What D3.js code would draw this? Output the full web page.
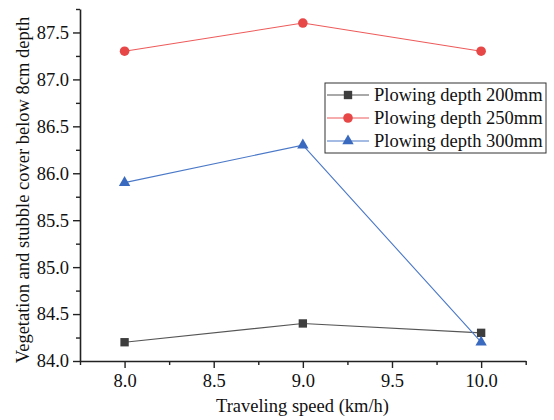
<!DOCTYPE html>
<html>
<head>
<meta charset="utf-8">
<script src="https://cdn.jsdelivr.net/npm/d3@7"></script>
<style>
  html, body { margin: 0; padding: 0; background: #fff; }
  svg { display: block; }
  svg text { font-family: "Liberation Serif", serif; }
</style>
</head>
<body>
<svg id="chart" width="554" height="420"></svg>
<script>
// Traveling speed (km/h)
const speeds = [8.0, 9.0, 10.0];
// Vegetation and stubble cover (%) for each plowing depth
const depth200 = [84.2, 84.4, 84.3];
const depth250 = [87.3, 87.6, 87.3];
const depth300 = [85.9, 86.3, 84.2];
const seriesNames = ["Plowing depth 200mm", "Plowing depth 250mm", "Plowing depth 300mm"];
const xTicks = [8.0, 8.5, 9.0, 9.5, 10.0];
const yTicks = [84.0, 84.5, 85.0, 85.5, 86.0, 86.5, 87.0, 87.5];

const series = [
  { name: seriesNames[0], values: depth200, color: "#3d3d3d", line: "#555555", symbol: d3.symbolSquare, size: 70 },
  { name: seriesNames[1], values: depth250, color: "#e84747", line: "#ee5a5a", symbol: d3.symbolCircle, size: 72 },
  { name: seriesNames[2], values: depth300, color: "#3a6ac0", line: "#4a78c8", symbol: d3.symbolTriangle, size: 56 }
];

const svg = d3.select("#chart");
const m = { left: 80, right: 554 - 525.7, top: 9, bottom: 420 - 361 };
const W = 554, H = 420;
const FONT = "Liberation Serif, serif";
const FS = 18.5;

const x = d3.scaleLinear().domain([7.75, 10.25]).range([m.left, W - m.right]);
const y = d3.scaleLinear().domain([84.0, 87.75]).range([H - m.bottom, m.top]);

// minor ticks halfway between majors
const xMinor = [7.75, 8.25, 8.75, 9.25, 9.75, 10.25];
const yMinor = [84.25, 84.75, 85.25, 85.75, 86.25, 86.75, 87.25, 87.75];

const axisColor = "#222";
function styleAxis(g) {
  g.attr("font-family", FONT).attr("font-size", FS);
  g.select(".domain").attr("stroke", axisColor).attr("stroke-width", 1.6);
  g.selectAll(".tick line").attr("stroke", axisColor).attr("stroke-width", 1.4);
  g.selectAll(".tick text").attr("fill", "#111");
}

// minor ticks
svg.append("g").attr("transform", `translate(0,${H - m.bottom})`)
  .call(d3.axisBottom(x).tickValues(xMinor).tickSize(4).tickFormat(""))
  .call(g => { styleAxis(g); g.select(".domain").remove(); });
svg.append("g").attr("transform", `translate(${m.left},0)`)
  .call(d3.axisLeft(y).tickValues(yMinor).tickSize(4).tickFormat(""))
  .call(g => { styleAxis(g); g.select(".domain").remove(); });

// major axes
svg.append("g").attr("transform", `translate(0,${H - m.bottom})`)
  .call(d3.axisBottom(x).tickValues(xTicks).tickSize(7).tickSizeOuter(0).tickPadding(6).tickFormat(d3.format(".1f")))
  .call(styleAxis);
svg.append("g").attr("transform", `translate(${m.left},0)`)
  .call(d3.axisLeft(y).tickValues(yTicks).tickSize(7).tickSizeOuter(0).tickPadding(4).tickFormat(d3.format(".1f")))
  .call(styleAxis);

// axis titles
svg.append("text")
  .attr("x", 302.5).attr("y", 412)
  .attr("text-anchor", "middle").attr("font-family", FONT).attr("font-size", FS).attr("fill", "#111")
  .text("Traveling speed (km/h)");
svg.append("text")
  .attr("transform", `translate(29,190) rotate(-90)`)
  .attr("text-anchor", "middle").attr("font-family", FONT).attr("font-size", FS).attr("fill", "#111")
  .text("Vegetation and stubble cover below 8cm depth");

// lines and markers
const line = d3.line().x((d, i) => x(speeds[i])).y(d => y(d));
series.forEach(s => {
  svg.append("path").datum(s.values)
    .attr("d", line).attr("fill", "none").attr("stroke", s.line).attr("stroke-width", 1.1);
  svg.append("g").selectAll("path").data(s.values).join("path")
    .attr("transform", (d, i) => `translate(${x(speeds[i])},${y(d)})`)
    .attr("d", d3.symbol().type(s.symbol).size(s.size))
    .attr("fill", s.color);
});

// legend
const lg = svg.append("g").attr("transform", "translate(325,83)");
lg.append("rect").attr("width", 221).attr("height", 70)
  .attr("fill", "#fff").attr("stroke", "#333").attr("stroke-width", 1);
series.forEach((s, i) => {
  const cy = 12 + i * 23;
  lg.append("line").attr("x1", 2).attr("x2", 44).attr("y1", cy).attr("y2", cy)
    .attr("stroke", s.line).attr("stroke-width", 1.1);
  lg.append("path").attr("transform", `translate(23,${cy})`)
    .attr("d", d3.symbol().type(s.symbol).size(s.size)).attr("fill", s.color);
  lg.append("text").attr("x", 49).attr("y", cy + 6)
    .attr("font-family", FONT).attr("font-size", FS).attr("fill", "#111").text(s.name);
});
</script>
</body>
</html>
